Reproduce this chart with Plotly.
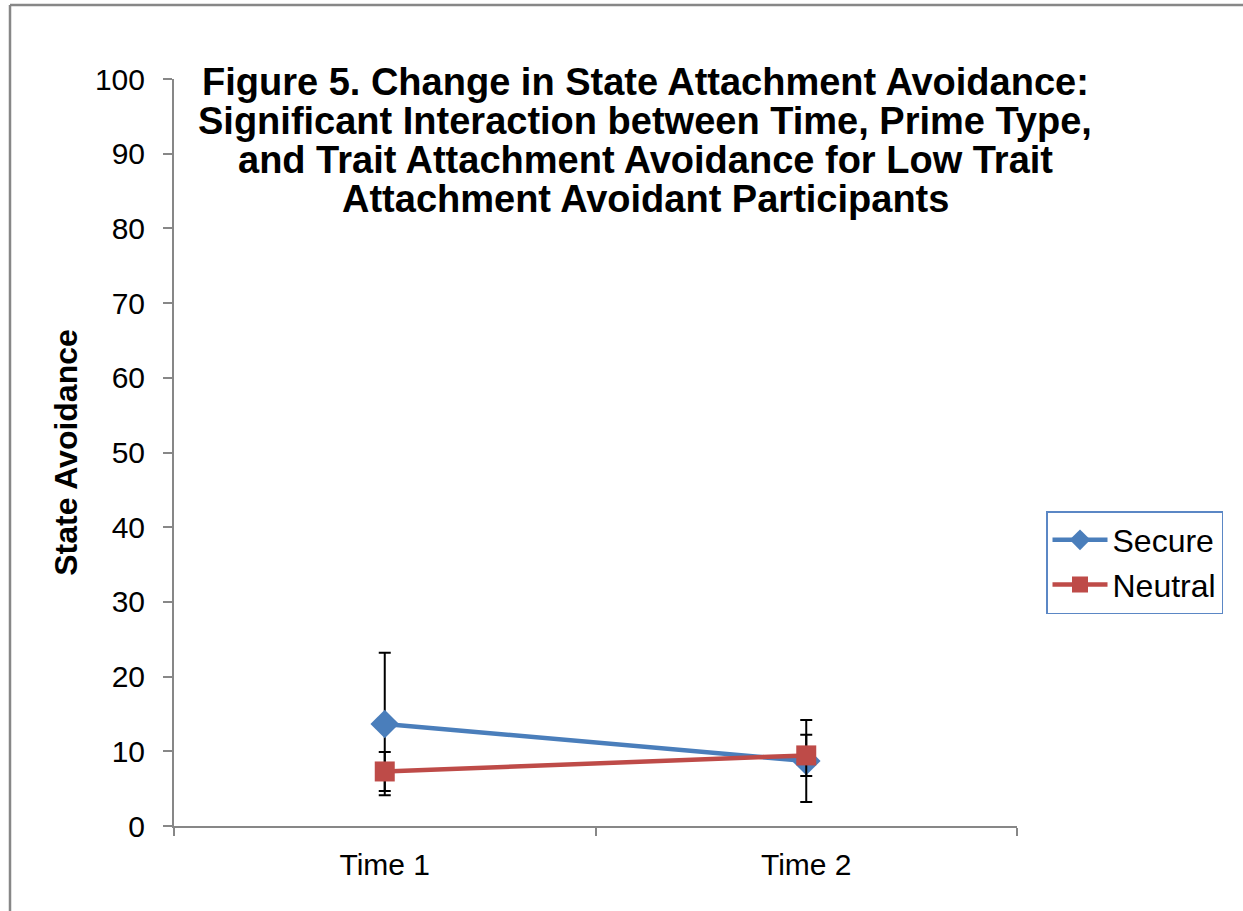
import plotly.graph_objects as go

categories = ["Time 1", "Time 2"]
secure_values = [13.65, 8.7]
secure_err = [9.55, 5.5]
neutral_values = [7.3, 9.45]
neutral_err = [2.6, 2.75]
title_lines = [
    "Figure 5. Change in State Attachment Avoidance:",
    "Significant Interaction between Time, Prime Type,",
    "and Trait Attachment Avoidance for Low Trait",
    "Attachment Avoidant Participants",
]

W, H = 1243, 911
L, R, T, B = 174, 1017, 79, 826

def px_x(px):
    return (px - L) / (R - L)

def px_y(py):
    return (B - py) / (B - T)

fig = go.Figure()
fig.add_trace(go.Scatter(
    x=categories, y=secure_values, name="Secure", mode="lines+markers",
    line=dict(color="#4A7EBB", width=4.5),
    marker=dict(symbol="diamond", size=22, color="#4A7EBB"),
    error_y=dict(type="data", array=secure_err, color="black", thickness=2, width=6),
))
fig.add_trace(go.Scatter(
    x=categories, y=neutral_values, name="Neutral", mode="lines+markers",
    line=dict(color="#BE4B48", width=4.5),
    marker=dict(symbol="square", size=20, color="#BE4B48"),
    error_y=dict(type="data", array=neutral_err, color="black", thickness=2, width=6),
))

annotations = []
line_y = [82, 121, 160, 199]
for txt, py in zip(title_lines, line_y):
    annotations.append(dict(
        text="<b>" + txt + "</b>", x=px_x(645), y=px_y(py), xref="paper", yref="paper",
        xanchor="center", yanchor="middle", showarrow=False,
        font=dict(family="Liberation Sans, Arial", size=38, color="black"),
    ))

shapes = [
    dict(type="line", xref="paper", yref="paper", x0=px_x(10), x1=px_x(10), y0=px_y(5), y1=px_y(930),
         line=dict(color="#878787", width=2.5)),
    dict(type="line", xref="paper", yref="paper", x0=px_x(10), x1=px_x(1260), y0=px_y(5), y1=px_y(5),
         line=dict(color="#878787", width=2.5)),
]

fig.update_layout(
    width=W, height=H,
    margin=dict(l=L, r=W - R, t=T, b=H - B, pad=0),
    paper_bgcolor="white", plot_bgcolor="white",
    font=dict(family="Liberation Sans, Arial", color="black"),
    showlegend=True,
    legend=dict(
        x=px_x(1046), y=px_y(511), xanchor="left", yanchor="top",
        bordercolor="#5B87C5", borderwidth=1.5, bgcolor="white",
        font=dict(size=32, family="Liberation Sans, Arial"),
        itemwidth=55, tracegroupgap=0,
    ),
    annotations=annotations,
    shapes=shapes,
    xaxis=dict(
        type="category", range=[-0.5, 1.5], showgrid=False, zeroline=False,
        showline=True, linecolor="#878787", linewidth=2,
        ticks="outside", ticklen=8, tickwidth=2, tickcolor="#878787", tickson="boundaries",
        tickfont=dict(size=30), ticklabelstandoff=11,
    ),
    yaxis=dict(
        range=[0, 100], dtick=10, showgrid=False, zeroline=False,
        showline=True, linecolor="#878787", linewidth=2,
        ticks="outside", ticklen=9, tickwidth=2, tickcolor="#878787",
        tickfont=dict(size=30), ticklabelstandoff=12,
        title=dict(text="<b>State Avoidance</b>", font=dict(size=32), standoff=8),
    ),
)

fig.write_html("out.html", config={"displayModeBar": False},
               post_script="document.body.style.margin='0';")
